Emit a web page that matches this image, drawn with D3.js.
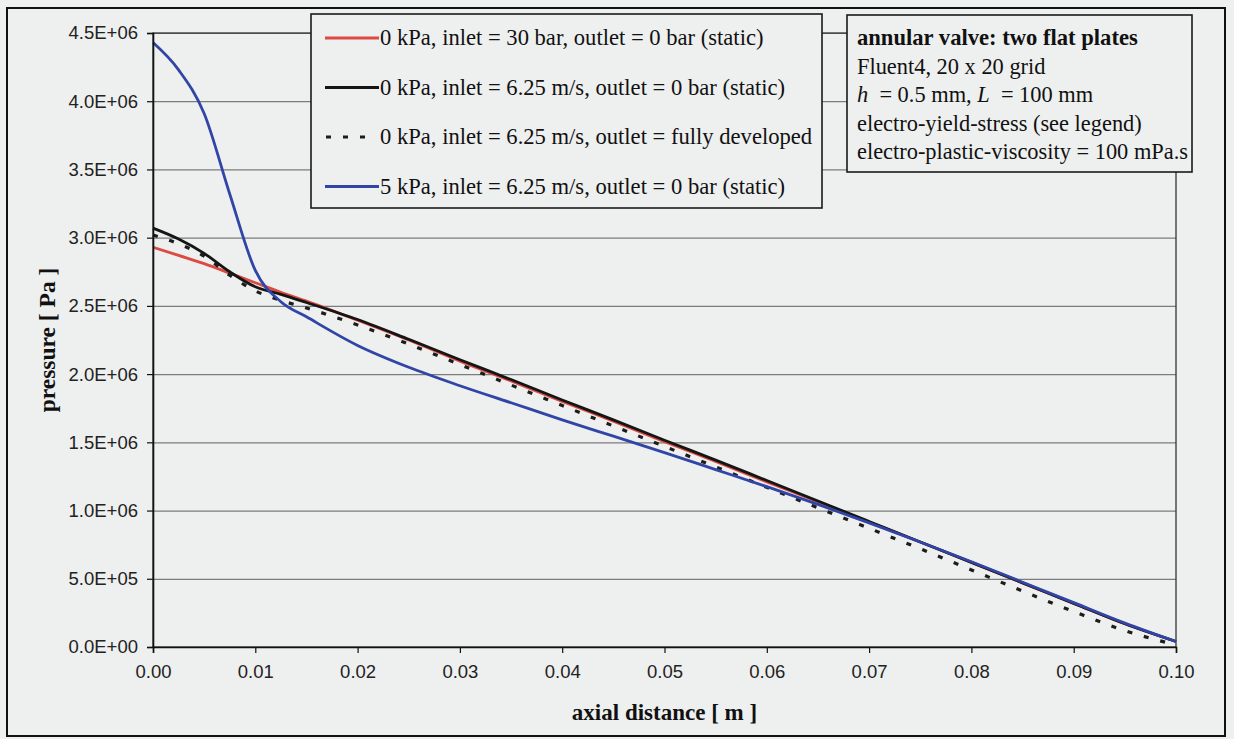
<!DOCTYPE html>
<html>
<head>
<meta charset="utf-8">
<script src="https://cdn.jsdelivr.net/npm/d3@7"></script>
<style>
  html, body { margin: 0; padding: 0; background: #eeefef; }
  svg { display: block; }
</style>
</head>
<body>
<svg id="chart" width="1234" height="739"></svg>
<script>
// Axial position along the valve gap [m]
const distance = [0, 0.0025, 0.005, 0.0075, 0.01, 0.0125, 0.015, 0.02, 0.025, 0.03, 0.035, 0.04,
                  0.045, 0.05, 0.055, 0.06, 0.065, 0.07, 0.075, 0.08, 0.085, 0.09, 0.095, 0.1];

// Pressure [Pa] for each case
const p0kPaInlet30bar = [2.93e6, 2.87e6, 2.81e6, 2.74e6, 2.67e6, 2.60e6, 2.535e6, 2.395e6, 2.25e6, 2.095e6, 1.95e6, 1.80e6,
                         1.655e6, 1.505e6, 1.36e6, 1.21e6, 1.065e6, 0.915e6, 0.77e6, 0.62e6, 0.47e6, 0.32e6, 0.17e6, 0.04e6];
const p0kPaInletVelStatic = [3.07e6, 2.99e6, 2.885e6, 2.75e6, 2.64e6, 2.585e6, 2.525e6, 2.40e6, 2.255e6, 2.105e6, 1.96e6, 1.81e6,
                             1.665e6, 1.515e6, 1.37e6, 1.22e6, 1.07e6, 0.92e6, 0.77e6, 0.62e6, 0.47e6, 0.32e6, 0.17e6, 0.04e6];
const p0kPaInletVelDeveloped = [3.02e6, 2.955e6, 2.865e6, 2.725e6, 2.61e6, 2.54e6, 2.485e6, 2.36e6, 2.22e6, 2.07e6, 1.92e6, 1.77e6,
                                1.62e6, 1.47e6, 1.32e6, 1.17e6, 1.02e6, 0.87e6, 0.72e6, 0.565e6, 0.41e6, 0.26e6, 0.12e6, 0.015e6];
const p5kPaInletVelStatic = [4.43e6, 4.23e6, 3.91e6, 3.32e6, 2.76e6, 2.53e6, 2.42e6, 2.21e6, 2.05e6, 1.915e6, 1.79e6, 1.665e6,
                             1.545e6, 1.425e6, 1.30e6, 1.175e6, 1.045e6, 0.91e6, 0.77e6, 0.625e6, 0.475e6, 0.325e6, 0.175e6, 0.04e6];

const seriesNames = [
  "0 kPa, inlet = 30 bar, outlet = 0 bar (static)",
  "0 kPa, inlet = 6.25 m/s, outlet = 0 bar (static)",
  "0 kPa, inlet = 6.25 m/s, outlet = fully developed",
  "5 kPa, inlet = 6.25 m/s, outlet = 0 bar (static)"
];

const xTicks = [0, 0.01, 0.02, 0.03, 0.04, 0.05, 0.06, 0.07, 0.08, 0.09, 0.1];
const xTickLabels = ["0.00", "0.01", "0.02", "0.03", "0.04", "0.05", "0.06", "0.07", "0.08", "0.09", "0.10"];
const yTicks = [0, 5e5, 1e6, 1.5e6, 2e6, 2.5e6, 3e6, 3.5e6, 4e6, 4.5e6];
const yTickLabels = ["0.0E+00", "5.0E+05", "1.0E+06", "1.5E+06", "2.0E+06", "2.5E+06", "3.0E+06", "3.5E+06", "4.0E+06", "4.5E+06"];

const noteLines = [
  "annular valve: two flat plates",
  "Fluent4, 20 x 20 grid",
  "h = 0.5 mm, L = 100 mm",
  "electro-yield-stress (see legend)",
  "electro-plastic-viscosity = 100 mPa.s"
];

// ---------------------------------------------------------------------------
const svg = d3.select("#chart");
const W = 1234, H = 739;
const bg = "#eeefef";
const serif = "'Liberation Serif', 'Times New Roman', serif";
const sans = "'Liberation Sans', Arial, sans-serif";

const plot = { left: 153, right: 1176, top: 33, bottom: 647 };

const x = d3.scaleLinear().domain([0, 0.1]).range([plot.left, plot.right]);
const y = d3.scaleLinear().domain([0, 4.5e6]).range([plot.bottom, plot.top]);

svg.append("rect").attr("width", W).attr("height", H).attr("fill", bg);

// chart frame
svg.append("rect")
  .attr("x", 7).attr("y", 8).attr("width", 1218).attr("height", 728)
  .attr("fill", "none").attr("stroke", "#111").attr("stroke-width", 2);

// horizontal gridlines
svg.append("g")
  .attr("transform", `translate(${plot.left},0)`)
  .call(d3.axisLeft(y).tickValues(yTicks).tickSize(-(plot.right - plot.left)).tickFormat(""))
  .call(g => g.select(".domain").remove())
  .call(g => g.selectAll("line").attr("stroke", "#7c7c7c").attr("stroke-width", 1.2));

// plot area border
svg.append("rect")
  .attr("x", plot.left).attr("y", plot.top)
  .attr("width", plot.right - plot.left).attr("height", plot.bottom - plot.top)
  .attr("fill", "none").attr("stroke", "#333").attr("stroke-width", 1.3);

// series
const series = [
  { name: seriesNames[0], values: p0kPaInlet30bar, color: "#dc4a42", dash: null, width: 2.8 },
  { name: seriesNames[1], values: p0kPaInletVelStatic, color: "#151515", dash: null, width: 2.8 },
  { name: seriesNames[2], values: p0kPaInletVelDeveloped, color: "#1c1c1c", dash: "5,12", width: 3.2 },
  { name: seriesNames[3], values: p5kPaInletVelStatic, color: "#3045a6", dash: null, width: 2.8 }
];

const line = d3.line()
  .x((d, i) => x(distance[i]))
  .y(d => y(d))
  .curve(d3.curveMonotoneX);

svg.append("g").selectAll("path")
  .data(series)
  .join("path")
  .attr("d", s => line(s.values))
  .attr("fill", "none")
  .attr("stroke", s => s.color)
  .attr("stroke-width", s => s.width)
  .attr("stroke-dasharray", s => s.dash)
  .attr("stroke-linejoin", "round");

// axes
const yAxis = svg.append("g")
  .attr("transform", `translate(${plot.left},0)`)
  .call(d3.axisLeft(y).tickValues(yTicks).tickFormat((d, i) => yTickLabels[i]).tickSizeOuter(0).tickSize(6).tickPadding(9));
const xAxis = svg.append("g")
  .attr("transform", `translate(0,${plot.bottom})`)
  .call(d3.axisBottom(x).tickValues(xTicks).tickFormat((d, i) => xTickLabels[i]).tickSizeOuter(0).tickSize(6).tickPadding(12));

[yAxis, xAxis].forEach(a => {
  a.select(".domain").attr("stroke", "#111").attr("stroke-width", 1.6);
  a.selectAll(".tick line").attr("stroke", "#111").attr("stroke-width", 1.2);
  a.selectAll(".tick text").attr("fill", "#222").style("font-family", sans).style("font-size", "18.5px");
});

// axis titles
svg.append("text")
  .attr("x", (plot.left + plot.right) / 2).attr("y", 720)
  .attr("text-anchor", "middle")
  .style("font-family", serif).style("font-size", "23px").style("font-weight", "bold")
  .attr("fill", "#111")
  .text("axial distance [ m ]");

svg.append("text")
  .attr("transform", `translate(55,${(plot.top + plot.bottom) / 2}) rotate(-90)`)
  .attr("text-anchor", "middle")
  .style("font-family", serif).style("font-size", "23.5px").style("font-weight", "bold")
  .attr("fill", "#111")
  .text("pressure [ Pa ]");

// legend
const legend = svg.append("g");
legend.append("rect")
  .attr("x", 311).attr("y", 14).attr("width", 511).attr("height", 194)
  .attr("fill", bg).attr("stroke", "#1a1a1a").attr("stroke-width", 1.6);

const rowY = d3.scalePoint().domain(d3.range(series.length)).range([38, 186.5]);
const items = legend.selectAll("g.item").data(series).join("g").attr("class", "item")
  .attr("transform", (s, i) => `translate(0,${rowY(i)})`);
items.append("line")
  .attr("x1", s => s.dash ? 326 : 325)
  .attr("x2", s => s.dash ? 368 : 379)
  .attr("stroke", s => s.color)
  .attr("stroke-width", s => s.width)
  .attr("stroke-dasharray", s => s.dash);
items.append("text")
  .attr("x", 380).attr("dy", "0.33em")
  .style("font-family", serif).style("font-size", "22.6px")
  .attr("fill", "#111")
  .text(s => s.name);

// annotation box
const note = svg.append("g");
note.append("rect")
  .attr("x", 847).attr("y", 15).attr("width", 345).attr("height", 157)
  .attr("fill", bg).attr("stroke", "#1a1a1a").attr("stroke-width", 1.6);

const noteY = d3.scalePoint().domain(d3.range(noteLines.length)).range([38, 152]);
noteLines.forEach((t, i) => {
  const txt = note.append("text")
    .attr("x", 857).attr("y", noteY(i)).attr("dy", "0.33em")
    .style("font-family", serif).style("font-size", i === 0 ? "22.6px" : "22.4px")
    .attr("fill", "#111");
  if (i === 0) {
    txt.style("font-weight", "bold").text(t);
  } else if (i === 2) {
    txt.append("tspan").style("font-style", "italic").text("h");
    txt.append("tspan").text("\u00a0 = 0.5 mm, ");
    txt.append("tspan").style("font-style", "italic").text("L");
    txt.append("tspan").text("\u00a0 = 100 mm");
  } else {
    txt.text(t);
  }
});
</script>
</body>
</html>
